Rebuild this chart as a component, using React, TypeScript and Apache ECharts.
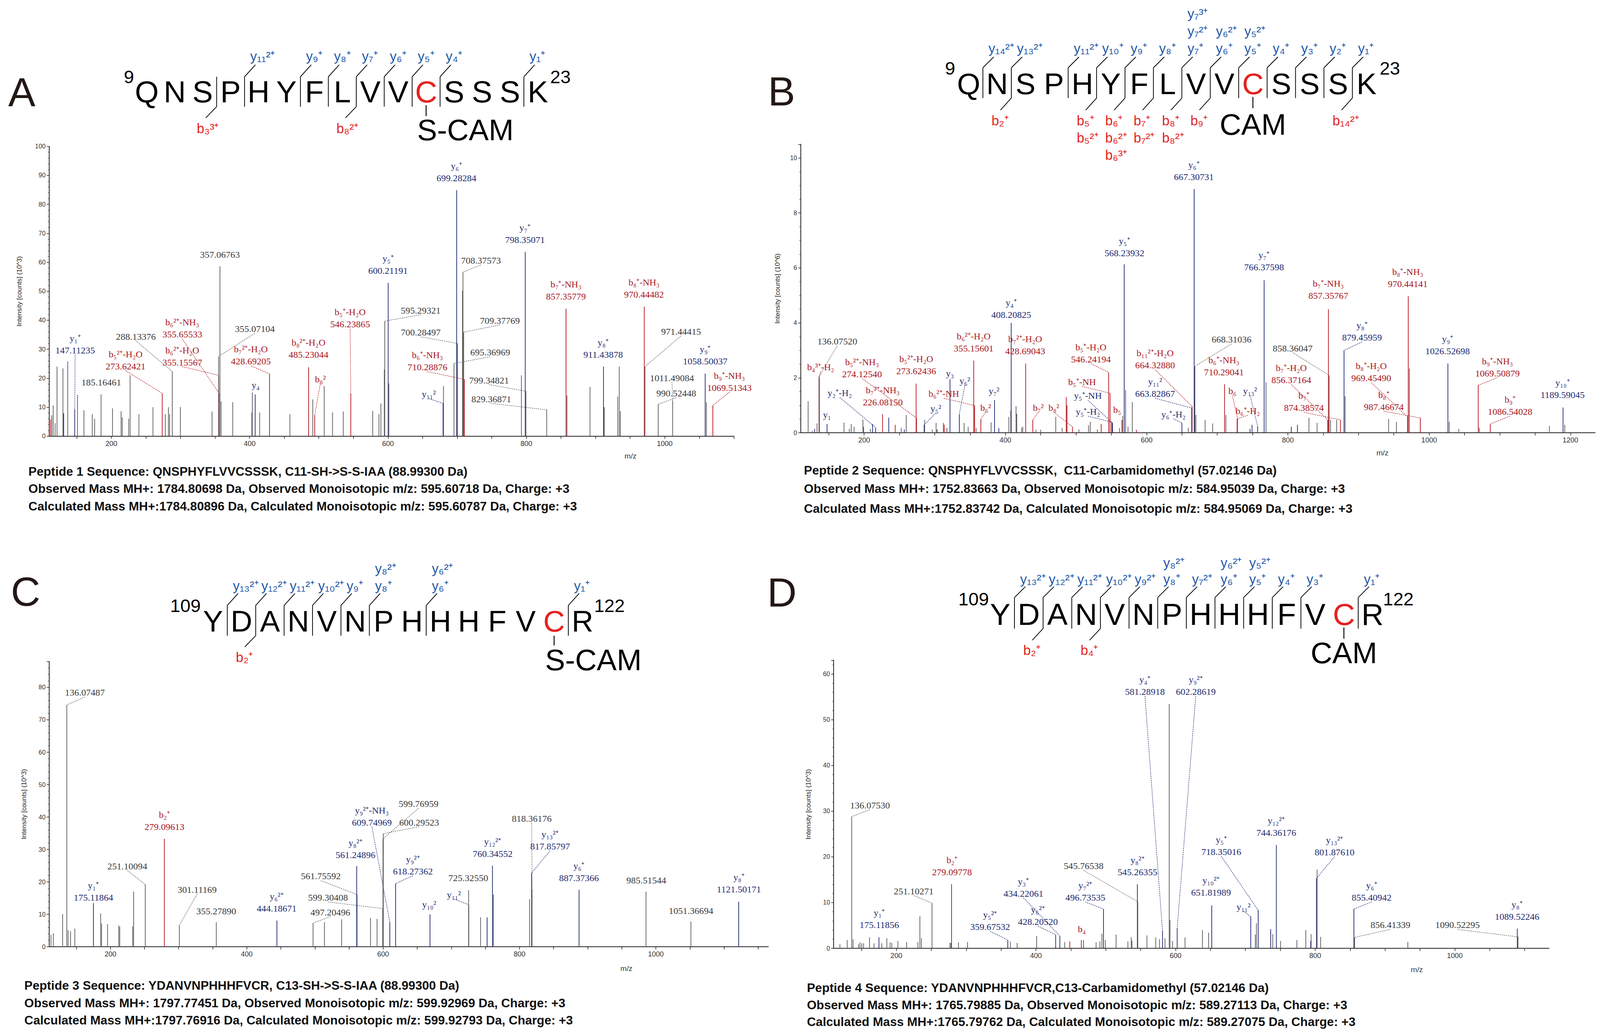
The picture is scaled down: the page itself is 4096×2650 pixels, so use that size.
import React, { useEffect, useRef } from "react";
import * as echarts from "echarts";

const W = 4096;
const H = 2650;
const S = W / 4273;
const R = (v: number) => v * S;

// ---------------- data ----------------
// unlabeled peaks: [m/z, intensity, kind]  kind: g = unassigned, b = y-ion, r = b-ion
const peaksA = [
  [112.2, 5.8, "r"], [113.9, 7.2, "g"], [116, 10.6, "g"], [118.8, 4.5, "g"], [121.5, 24, "g"], [130.1, 23.4, "g"],
  [131.2, 7.9, "b"], [137, 25.8, "g"], [151.1, 14.2, "g"], [160.4, 8.9, "g"], [172.5, 7.6, "g"], [175.9, 6, "g"],
  [201.7, 9.6, "g"], [214.1, 8.6, "g"], [215.8, 6.5, "g"], [225.1, 6, "g"], [227.2, 21, "g"], [239.9, 7.6, "g"],
  [260.2, 10, "g"], [278.1, 7.6, "g"], [282.6, 10, "g"], [284.3, 7.6, "g"], [299.8, 10.1, "g"], [345.6, 8.5, "g"],
  [358.7, 12, "g"], [375.5, 11.7, "g"], [403.1, 8.2, "g"], [403.8, 15.1, "g"], [414.4, 8.2, "g"], [458.2, 7.6, "g"],
  [491.2, 12.7, "g"], [507.7, 17.3, "g"], [519.8, 8.2, "g"], [535.3, 8.5, "g"], [577.9, 8.7, "g"], [586.9, 7.6, "g"],
  [589.7, 11.3, "g"], [594.6, 23, "g"], [601.2, 18.2, "g"], [680.2, 17.3, "g"], [707.6, 50.2, "g"], [792.8, 21, "g"],
  [858.7, 14, "g"], [892, 17, "g"], [912.6, 10, "g"], [932.1, 13.7, "g"], [934.3, 24, "g"], [935.9, 8.6, "g"],
  [1060.3, 11.7, "g"],
];
// annotated peaks: [m/z, intensity, kind, ion, show m/z]
const annA = [
  [147.11235, 9.3, "b", "y₁⁺", 1], [185.16461, 14.4, "g", "", 1], [273.62421, 14.8, "r", "b₅²⁺-H₂O", 1],
  [288.13376, 22.3, "g", "", 1], [355.65533, 14.8, "r", "b₆²⁺-NH₃", 1], [355.15567, 21, "r", "b₆²⁺-H₂O", 1],
  [355.07104, 27.5, "g", "", 1], [357.06763, 58.6, "g", "", 1], [408.0, 14.4, "b", "y₄", 0],
  [428.69205, 21.5, "r", "b₇²⁺-H₂O", 1], [485.23044, 23.8, "r", "b₈²⁺-H₂O", 1], [494.0, 7.2, "r", "b₈²", 0],
  [546.23865, 14.8, "r", "b₅⁺-H₂O", 1], [600.21191, 52.9, "b", "y₅⁺", 1], [595.29321, 39.7, "g", "", 1],
  [700.28497, 32, "g", "", 1], [710.28876, 19.6, "r", "b₆⁺-NH₃", 1], [679.6, 11.3, "b", "y₁₁²", 0],
  [695.36969, 25.1, "g", "", 1], [699.28284, 84.9, "b", "y₆⁺", 1], [708.37573, 56.6, "g", "", 1],
  [709.37769, 35.9, "g", "", 1], [799.34821, 15.5, "g", "", 1], [829.36871, 9.1, "g", "", 1],
  [798.35071, 63.6, "b", "y₇⁺", 1], [857.35779, 44, "r", "b₇⁺-NH₃", 1], [911.43878, 24, "b", "y₈⁺", 1],
  [970.44482, 44.7, "r", "b₈⁺-NH₃", 1], [971.44415, 24, "g", "", 1], [1011.49084, 12.2, "g", "", 1],
  [990.52448, 11, "g", "", 1], [1058.50037, 21.6, "b", "y₉⁺", 1], [1069.51343, 10.6, "r", "b₉⁺-NH₃", 1],
];
// label placement (data coords of label bottom centre, leader flag)
const layA = [
  [147.7, 28.5, 1], [185.5, 17.5, 0], [220.7, 23, 1], [235.5, 33.3, 1], [302.6, 34, 1], [302.6, 24.4, 1],
  [407.5, 35.9, 1], [357, 61.6, 0], [408.6, 16.5, 0], [401.7, 24.7, 1], [485, 27.1, 0], [502.2, 18.6, 1],
  [545.2, 37.5, 1], [600, 56, 0], [647.3, 42.3, 1], [647.3, 34.7, 1], [657, 22.7, 1], [659, 13.4, 1],
  [747.7, 27.8, 1], [698.9, 88, 0], [734.4, 59.5, 1], [761.7, 38.8, 1], [746, 18.2, 1], [749.3, 11.7, 1],
  [798, 66.7, 0], [857.2, 47.1, 0], [911, 27.1, 0], [970, 47.8, 0], [1023.6, 35, 1], [1010.5, 19, 1],
  [1016.7, 13.7, 1], [1058.5, 24.7, 0], [1093.5, 15.6, 1],
];

const peaksB = [
  [120.7, 1.15, "g"], [126.5, 0.07, "g"], [129.9, 0.14, "b"], [133.3, 0.34, "g"], [171.5, 0.37, "g"], [179, 0.14, "g"],
  [181.7, 0.32, "g"], [185.8, 0.22, "g"], [198.3, 0.48, "g"], [199.3, 0.22, "g"], [208.8, 0.14, "g"], [211.9, 0.32, "b"],
  [234.9, 0.55, "b"], [244, 0.29, "r"], [252.5, 0.18, "g"], [256.9, 0.12, "b"], [259.6, 0.65, "g"], [285.7, 0.47, "g"],
  [296.5, 0.12, "g"], [301.9, 0.36, "g"], [303.3, 0.12, "b"], [312.1, 0.36, "g"], [313.5, 0.29, "r"], [317.2, 0.18, "g"],
  [341.6, 0.36, "g"], [347.3, 0.22, "g"], [358.5, 0.18, "g"], [379.8, 0.38, "g"], [390.7, 0.17, "b"], [404.9, 0.58, "g"],
  [407.6, 0.8, "g"], [415.1, 0.97, "g"], [416.1, 0.69, "g"], [422.9, 0.18, "g"], [424.6, 0.22, "g"], [443.2, 0.11, "g"],
  [450, 0.11, "g"], [471.3, 0.58, "g"], [480.4, 0.18, "g"], [486.2, 1.3, "r"], [487.2, 1.0, "r"], [504.2, 0.12, "g"],
  [517.7, 0.27, "g"], [520.1, 0.4, "g"], [530.2, 0.12, "g"], [535.6, 0.32, "r"], [561.7, 0.17, "g"], [566.1, 0.61, "g"],
  [570.2, 1.55, "g"], [573.6, 0.22, "g"], [579.7, 1.12, "g"], [585.4, 0.11, "r"], [659, 0.18, "g"], [669.7, 0.65, "g"],
  [682.8, 0.47, "g"], [693.5, 0.34, "g"], [712.2, 0.65, "g"], [746.4, 0.14, "b"], [749.2, 0.29, "b"], [769, 1.84, "g"],
  [804.8, 0.22, "b"], [813.5, 0.29, "b"], [829.8, 0.54, "g"], [841.3, 0.36, "g"], [860.4, 0.47, "g"], [869.1, 0.47, "g"],
  [881, 1.33, "g"], [942.6, 0.5, "g"], [953.7, 0.4, "g"], [972, 2.34, "g"], [1028.4, 0.4, "g"], [1041.9, 0.14, "g"],
  [1070.9, 0.18, "g"], [1170.2, 0.25, "g"], [1192, 0.29, "g"],
];
const annB = [
  [136.0752, 2.05, "g", "", 1], [136.6, 2.0, "r", "b₄³⁺-H₂", 0], [147.5, 0.32, "b", "y₁", 0],
  [216.3, 0.19, "b", "y₂⁺-H₂", 0], [274.1254, 0.54, "r", "b₅²⁺-NH₃", 1], [226.0815, 0.68, "r", "b₇²⁺-NH₃", 1],
  [273.62436, 1.79, "r", "b₅²⁺-H₂O", 1], [285.0, 0.29, "b", "y₅²", 0], [321.6, 1.95, "b", "y₃", 0],
  [334.8, 0.68, "b", "y₆²", 0], [355.15601, 2.63, "r", "b₆²⁺-H₂O", 1], [356.4, 0.99, "r", "b₆²⁺-NH", 0],
  [365.3, 0.5, "r", "b₆²", 0], [384.6, 1.19, "b", "y₇²", 0], [408.20825, 4.0, "b", "y₄⁺", 1],
  [428.69043, 2.52, "r", "b₇²⁺-H₂O", 1], [438.8, 0.47, "r", "b₇²", 0], [495.0, 0.22, "r", "b₈²", 0],
  [546.24194, 2.2, "r", "b₅⁺-H₂O", 1], [548.2, 1.44, "r", "b₅⁺-NH", 0], [551.6, 0.36, "b", "y₅⁺-NH", 0],
  [550.5, 0.39, "b", "y₅⁺-H₂", 0], [565.1, 0.47, "r", "b₅", 0], [568.23932, 6.13, "b", "y₅⁺", 1],
  [664.3288, 0.96, "r", "b₁₁²⁺-H₂O", 1], [663.82867, 0.9, "b", "y₁₁²", 1], [649.9, 0.36, "b", "y₆⁺-H₂", 0],
  [667.30731, 8.87, "b", "y₆⁺", 1], [668.31036, 2.42, "g", "", 1], [710.29041, 1.77, "r", "b₆⁺-NH₃", 1],
  [728.5, 0.53, "r", "b₆", 0], [728.1, 0.5, "r", "b₆⁺-H₂", 0], [757.1, 0.25, "b", "y₁₃²", 0],
  [766.37598, 5.55, "b", "y₇⁺", 1], [858.36047, 2.09, "g", "", 1], [856.37164, 0.47, "r", "b₇⁺-H₂O", 1],
  [874.38574, 0.47, "r", "b₇⁺", 1], [857.35767, 4.5, "r", "b₇⁺-NH₃", 1], [879.45959, 3.0, "b", "y₈⁺", 1],
  [969.4549, 0.58, "r", "b₈⁺-H₂O", 1], [987.46674, 0.54, "r", "b₈⁺", 1], [970.44141, 4.97, "r", "b₈⁺-NH₃", 1],
  [1026.52698, 2.52, "b", "y₉⁺", 1], [1069.50879, 1.73, "r", "b₉⁺-NH₃", 1], [1086.54028, 0.32, "r", "b₉⁺", 1],
  [1189.59045, 0.92, "b", "y₁₀⁺", 1],
];
const layB = [
  [162, 3.21, 1], [138.4, 2.27, 1], [147.5, 0.54, 0], [165.5, 1.33, 1], [197, 2.02, 1], [226.4, 1.0, 0],
  [273.8, 2.13, 0], [301.6, 0.76, 1], [321.6, 2.05, 0], [342.6, 1.77, 1], [355.1, 2.96, 0], [312.8, 1.3, 1],
  [372, 0.79, 1], [383.9, 1.41, 0], [408.3, 4.18, 0], [428, 2.85, 0], [446.6, 0.79, 1], [468.6, 0.79, 1],
  [521.1, 2.56, 1], [508.5, 1.73, 1], [516.8, 1.23, 1], [516.8, 0.65, 1], [558.3, 0.72, 0], [568.5, 6.42, 0],
  [612, 2.34, 1], [612, 1.3, 1], [638, 0.55, 1], [666.9, 9.19, 0], [720.2, 3.28, 1], [709.4, 2.09, 0],
  [721.4, 1.41, 1], [743.2, 0.68, 1], [746.4, 1.41, 1], [766.2, 5.91, 0], [806.8, 2.96, 1], [804.8, 1.8, 1],
  [822.6, 0.79, 1], [857.2, 4.87, 0], [904.9, 3.35, 1], [918, 1.87, 1], [935.8, 0.83, 1], [969.6, 5.3, 0],
  [1026, 2.85, 0], [1096.7, 2.05, 1], [1114.6, 0.65, 1], [1188.9, 1.26, 0],
];

const peaksC = [
  [112.8, 3.7, "g"], [116.3, 4.2, "g"], [129.9, 10.1, "g"], [138, 5.1, "g"], [141.5, 4.8, "g"], [147.8, 5.6, "g"],
  [185.6, 10.3, "g"], [187, 7.2, "g"], [195.8, 7.0, "g"], [212.3, 6.6, "g"], [213.7, 6.2, "g"], [232.6, 6.3, "g"],
  [234, 17.0, "g"], [513.9, 7.6, "g"], [539.1, 8.5, "g"], [581.5, 8.9, "g"], [591.1, 8.6, "g"], [742.9, 9.1, "g"],
  [752.5, 9.1, "b"], [761.7, 16.1, "g"], [814.9, 14.7, "g"],
];
const annC = [
  [136.07487, 74.6, "g", "", 1], [175.11864, 13.5, "b", "y₁⁺", 1], [251.10094, 19.2, "g", "", 1],
  [279.09613, 33.3, "r", "b₂⁺", 1], [301.11169, 6.7, "g", "", 1], [355.2789, 7.6, "g", "", 1],
  [444.18671, 8.1, "b", "y₆²⁺", 1], [561.75592, 16.1, "g", "", 1], [599.30408, 11.8, "g", "", 1],
  [497.20496, 7.3, "g", "", 1], [561.24896, 24.9, "b", "y₈²⁺", 1], [609.74969, 7.6, "b", "y₉²⁺-NH₃", 1],
  [599.76959, 33.3, "g", "", 1], [600.29523, 34.9, "g", "", 1], [618.27362, 19.5, "b", "y₉²⁺", 1],
  [668.7, 10.0, "b", "y₁₀²", 0], [725.6, 13.0, "b", "y₁₁²", 0], [725.3255, 17.5, "g", "", 1],
  [760.34552, 25, "b", "y₁₂²⁺", 1], [818.36176, 17.6, "g", "", 1], [817.85797, 22.8, "b", "y₁₃²⁺", 1],
  [887.37366, 17.6, "b", "y₆⁺", 1], [985.51544, 17, "g", "", 1], [1051.36694, 7.8, "g", "", 1],
  [1121.50171, 13.9, "b", "y₈⁺", 1],
];
const layC = [
  [162.5, 77.4, 1], [175.1, 14.2, 0], [224.9, 23.9, 1], [279.2, 36, 0], [327.2, 16.6, 1], [355.2, 10, 0],
  [443.8, 10.8, 0], [508.6, 20.8, 1], [519.1, 14.2, 1], [522.6, 9.7, 1], [559.4, 27.4, 0], [583.5, 37.4, 1],
  [652, 43.1, 1], [652.8, 37.4, 1], [643.6, 22.3, 1], [667.6, 12, 0], [703.8, 15.1, 1], [724.8, 20.2, 0],
  [760.6, 27.7, 0], [817.9, 38.6, 1], [844.9, 30, 1], [887.3, 20.3, 0], [985.9, 19.5, 0], [1051.6, 10.1, 0],
  [1121.8, 16.8, 0],
];

const peaksD = [
  [119.2, 0.9, "g"], [129.6, 1.8, "g"], [137.9, 2.0, "g"], [145.8, 0.9, "g"], [147.9, 1.3, "g"], [150.5, 1.1, "g"],
  [153, 1.1, "g"], [161.6, 2.4, "g"], [168, 1.1, "g"], [179.2, 1.1, "g"], [186.4, 2.2, "g"], [191, 1.3, "g"],
  [193.5, 1.2, "g"], [202.2, 1.6, "g"], [214.7, 1.4, "g"], [230.9, 1.4, "g"], [233.7, 7.0, "g"], [235.9, 2.2, "g"],
  [276.8, 1.2, "g"], [278.3, 1.2, "g"], [289, 1.3, "g"], [302, 1.4, "g"], [363.3, 1.5, "g"], [373, 1.2, "g"],
  [401, 2.7, "g"], [441.2, 1.4, "g"], [448.4, 1.5, "r"], [468.2, 1.8, "g"], [486.1, 1.3, "g"], [491.5, 1.5, "g"],
  [494.4, 3.2, "g"], [499.4, 1.8, "g"], [514.8, 3.0, "g"], [531.7, 1.5, "g"], [536.4, 2.4, "g"], [537.5, 1.7, "g"],
  [559, 2.8, "g"], [571.6, 2.4, "g"], [577, 2.0, "g"], [584.8, 2.2, "g"], [590.9, 53.4, "g"], [592, 6.2, "g"],
  [595.6, 1.6, "g"], [613.5, 2.4, "g"], [638.5, 4.0, "g"], [647.3, 3.4, "g"], [714.2, 3.0, "g"], [715.8, 5.5, "g"],
  [736.2, 4.2, "b"], [739.2, 3.1, "g"], [750.4, 1.6, "g"], [773.8, 1.8, "g"], [786.5, 4.0, "g"], [793.5, 1.6, "b"],
  [794.2, 3.1, "g"], [802.7, 17.2, "g"], [807.7, 2.5, "g"], [932.7, 1.4, "g"],
];
const annD = [
  [136.0753, 28.8, "g", "", 1], [175.11856, 2.4, "b", "y₁⁺", 1], [251.10271, 9.9, "g", "", 1],
  [279.09778, 14, "r", "b₂⁺", 1], [359.67532, 1.8, "b", "y₅²⁺", 1], [434.22061, 2.7, "b", "y₃⁺", 1],
  [428.2052, 3.0, "b", "y₆²⁺", 1], [465.0, 1.8, "r", "b₄", 0], [496.73535, 8.6, "b", "y₇²⁺", 1],
  [545.76538, 10.2, "g", "", 1], [545.26355, 14, "b", "y₈²⁺", 1], [581.28918, 3.8, "b", "y₄⁺", 1],
  [602.28619, 4.4, "b", "y₉²⁺", 1], [651.81989, 9.4, "b", "y₁₀²⁺", 1], [707.7, 6.9, "b", "y₁₁²", 0],
  [718.35016, 8.3, "b", "y₅⁺", 1], [744.36176, 22.6, "b", "y₁₂²⁺", 1], [801.8761, 15.3, "b", "y₁₃²⁺", 1],
  [855.40942, 8.6, "b", "y₆⁺", 1], [856.41339, 2.4, "g", "", 1], [1090.52295, 2.5, "g", "", 1],
  [1089.52246, 4.3, "b", "y₈⁺", 1],
];
const layD = [
  [162.3, 30.6, 1], [175.6, 4.4, 0], [224.8, 11.8, 1], [279.7, 16, 0], [334.3, 4.0, 1], [382, 11.3, 1],
  [402.8, 5.1, 1], [465.7, 3.5, 0], [470.7, 10.4, 1], [468.2, 17.3, 1], [545.4, 16, 0], [556.1, 55.4, 1],
  [628.9, 55.4, 1], [650.8, 11.5, 0], [697.3, 8.4, 1], [665.4, 20.4, 1], [744.2, 24.6, 0], [827.7, 20.3, 1],
  [880.8, 10.4, 1], [907.7, 4.4, 1], [1003.8, 4.4, 1], [1089.2, 6.2, 0],
];

// tick labels
const xLabelsA = [200, 400, 600, 800, 1000];
const xLabelsB = [200, 400, 600, 800, 1000, 1200];
const xLabelsC = [200, 400, 600, 800, 1000];
const xLabelsD = [200, 400, 600, 800, 1000];

// sequence headers
const yIonsA = [[3, ["y₁₁²⁺"]], [5, ["y₉⁺"]], [6, ["y₈⁺"]], [7, ["y₇⁺"]], [8, ["y₆⁺"]], [9, ["y₅⁺"]], [10, ["y₄⁺"]], [13, ["y₁⁺"]]];
const bIonsA = [[2, ["b₃³⁺"]], [7, ["b₈²⁺"]]];
const yIonsB = [[0, ["y₁₄²⁺"]], [1, ["y₁₃²⁺"]], [3, ["y₁₁²⁺"]], [4, ["y₁₀⁺"]], [5, ["y₉⁺"]], [6, ["y₈⁺"]],
  [7, ["y₇⁺", "y₇²⁺", "y₇³⁺"]], [8, ["y₆⁺", "y₆²⁺"]], [9, ["y₅⁺", "y₅²⁺"]], [10, ["y₄⁺"]], [11, ["y₃⁺"]], [12, ["y₂⁺"]], [13, ["y₁⁺"]]];
const bIonsB = [[1, ["b₂⁺"]], [4, ["b₅⁺", "b₅²⁺"]], [5, ["b₆⁺", "b₆²⁺", "b₆³⁺"]], [6, ["b₇⁺", "b₇²⁺"]], [7, ["b₈⁺", "b₈²⁺"]], [8, ["b₉⁺"]], [13, ["b₁₄²⁺"]]];
const yIonsC = [[0, ["y₁₃²⁺"]], [1, ["y₁₂²⁺"]], [2, ["y₁₁²⁺"]], [3, ["y₁₀²⁺"]], [4, ["y₉⁺"]], [5, ["y₈⁺", "y₈²⁺"]], [7, ["y₆⁺", "y₆²⁺"]], [12, ["y₁⁺"]]];
const bIonsC = [[1, ["b₂⁺"]]];
const yIonsD = [[0, ["y₁₃²⁺"]], [1, ["y₁₂²⁺"]], [2, ["y₁₁²⁺"]], [3, ["y₁₀²⁺"]], [4, ["y₉²⁺"]], [5, ["y₈⁺", "y₈²⁺"]], [6, ["y₇²⁺"]],
  [7, ["y₆⁺", "y₆²⁺"]], [8, ["y₅⁺", "y₅²⁺"]], [9, ["y₄⁺"]], [10, ["y₃⁺"]], [12, ["y₁⁺"]]];
const bIonsD = [[1, ["b₂⁺"]], [3, ["b₄⁺"]]];

const captionA = [
  "Peptide 1 Sequence: QNSPHYFLVVCSSSK, C11-SH->S-S-IAA (88.99300 Da)",
  "Observed Mass MH+: 1784.80698 Da, Observed Monoisotopic m/z: 595.60718 Da, Charge: +3",
  "Calculated Mass MH+:1784.80896 Da, Calculated Monoisotopic m/z: 595.60787 Da, Charge: +3",
];
const captionB = [
  "Peptide 2 Sequence: QNSPHYFLVVCSSSK,  C11-Carbamidomethyl (57.02146 Da)",
  "Observed Mass MH+: 1752.83663 Da, Observed Monoisotopic m/z: 584.95039 Da, Charge: +3",
  "Calculated Mass MH+:1752.83742 Da, Calculated Monoisotopic m/z: 584.95069 Da, Charge: +3",
];
const captionC = [
  "Peptide 3 Sequence: YDANVNPHHHFVCR, C13-SH->S-S-IAA (88.99300 Da)",
  "Observed Mass MH+: 1797.77451 Da, Observed Monoisotopic m/z: 599.92969 Da, Charge: +3",
  "Calculated Mass MH+:1797.76916 Da, Calculated Monoisotopic m/z: 599.92793 Da, Charge: +3",
];
const captionD = [
  "Peptide 4 Sequence: YDANVNPHHHFVCR,C13-Carbamidomethyl (57.02146 Da)",
  "Observed Mass MH+: 1765.79885 Da, Observed Monoisotopic m/z: 589.27113 Da, Charge: +3",
  "Calculated Mass MH+:1765.79762 Da, Calculated Monoisotopic m/z: 589.27075 Da, Charge: +3",
];

// ---------------- styling ----------------
const KIND: any = { g: 0, b: 1, r: 2 };
const PEAK_COL = ["#5a5a5a", "#1b2670", "#b5121b"];
const TEXT_COL = ["#3a3a3a", "#1e2b6f", "#a8161b"];
const SERIF = "'Liberation Serif', 'Times New Roman', serif";
const SANS = "'Liberation Sans', Arial, sans-serif";
const HBLUE = "#1f58a8";
const HRED = "#e42320";
const FS = 24;
const LH = 31;

const panels = [
  { g: [131, 391, 1960, 1165], xr: [110, 1100], ymax: 100, yint: 10, ysplit: 5, yname: "Intensity [counts] (10^3)", gap: 71, xl: xLabelsA, peaks: peaksA, ann: annA, lay: layA, mz: [1684, 1218] },
  { g: [2138, 385.3, 4260, 1156], xr: [110, 1235], ymax: 10.5, yint: 2, ysplit: 4, yname: "Intensity [counts] (10^6)", gap: 53, xl: xLabelsB, peaks: peaksB, ann: annB, lay: layB, mz: [3692, 1210] },
  { g: [131, 1766.7, 2052, 2529], xr: [110, 1165], ymax: 88, yint: 10, ysplit: 5, yname: "Intensity [counts] (10^3)", gap: 58, xl: xLabelsC, peaks: peaksC, ann: annC, lay: layC, mz: [1673, 2587] },
  { g: [2226, 1763.3, 4137, 2533], xr: [110, 1135], ymax: 63, yint: 10, ysplit: 5, yname: "Intensity [counts] (10^3)", gap: 58, xl: xLabelsD, peaks: peaksD, ann: annD, lay: layD, mz: [3784, 2590] },
];

const headers = [
  { seq: "QNSPHYFLVVCSSSK", start: 9, end: 23, cys: 10, mod: "S-CAM", modCenter: false, x0: 392, pitch: 74.6, cy: 245.5, font: 82,
    sepTop: 205, sepBot: 285, slashTop: 173, labRow0: 150, labPitch: 46, slashBot: 315, bRow0: 343, bPitch: 46,
    numCy: 205.5, numL: 34, numR: 33, modLine: [281, 310], modCy: 346.5, y: yIonsA, b: bIonsA },
  { seq: "QNSPHYFLVVCSSSK", start: 9, end: 23, cys: 10, mod: "CAM", modCenter: true, x0: 2587, pitch: 75.9, cy: 223.5, font: 80,
    sepTop: 181, sepBot: 262, slashTop: 152, labRow0: 129, labPitch: 46, slashBot: 294, bRow0: 322, bPitch: 46,
    numCy: 182.5, numL: 36, numR: 35, modLine: [259, 289], modCy: 332, y: yIonsB, b: bIonsB },
  { seq: "YDANVNPHHHFVCR", start: 109, end: 122, cys: 12, mod: "S-CAM", modCenter: false, x0: 569, pitch: 75.9, cy: 1659, font: 80,
    sepTop: 1617, sepBot: 1698, slashTop: 1585, labRow0: 1565, labPitch: 46, slashBot: 1728, bRow0: 1756, bPitch: 46,
    numCy: 1617.5, numL: 33, numR: 31, modLine: [1698, 1724], modCy: 1762, y: yIonsC, b: bIonsC },
  { seq: "YDANVNPHHHFVCR", start: 109, end: 122, cys: 12, mod: "CAM", modCenter: true, x0: 2671, pitch: 76.5, cy: 1640.5, font: 82,
    sepTop: 1596, sepBot: 1679, slashTop: 1567, labRow0: 1547, labPitch: 44, slashBot: 1710, bRow0: 1737, bPitch: 46,
    numCy: 1599.5, numL: 30, numR: 28, modLine: [1676, 1706], modCy: 1743.5, y: yIonsD, b: bIonsD },
];

const panelLetters = [["A", 22, 246], ["B", 2051, 243.5], ["C", 29, 1580], ["D", 2049, 1582]];
const captions = [
  { lines: captionA, x: 76, cy: [1259, 1305, 1352] },
  { lines: captionB, x: 2147, cy: [1256, 1305, 1358] },
  { lines: captionC, x: 65, cy: [2632, 2679, 2725] },
  { lines: captionD, x: 2155, cy: [2638, 2684, 2729] },
];

// ---------------- helpers ----------------
function txt(text: string, x: number, y: number, size: number, color: string, align: string, weight?: string, family?: string) {
  return {
    type: "text", x: R(x), y: R(y), silent: true,
    style: {
      text, fill: color, fontSize: R(size), fontFamily: family || SANS, fontWeight: weight || "normal",
      textAlign: align, align, textVerticalAlign: "middle", verticalAlign: "middle",
    },
  };
}
function ln(x1: number, y1: number, x2: number, y2: number, color: string, w: number) {
  return { type: "line", silent: true, shape: { x1: R(x1), y1: R(y1), x2: R(x2), y2: R(y2) }, style: { stroke: color, lineWidth: R(w) } };
}

function header(h: any) {
  const els: any[] = [];
  const n = h.seq.length;
  const lx = (i: number) => h.x0 + i * h.pitch;
  for (let i = 0; i < n; i++) els.push(txt(h.seq[i], lx(i), h.cy, h.font, i === h.cys ? HRED : "#000", "center"));
  els.push(txt(String(h.start), lx(0) - h.numL, h.numCy, 49, "#000", "right"));
  els.push(txt(String(h.end), lx(n - 1) + h.numR, h.numCy, 49, "#000", "left"));
  const bounds = new Set<number>([...h.y.map((e: any) => e[0]), ...h.b.map((e: any) => e[0])]);
  bounds.forEach((k) => {
    const xs = lx(k) + h.pitch / 2;
    els.push(ln(xs, h.sepTop, xs, h.sepBot, "#000", 2));
  });
  h.y.forEach((e: any) => {
    const xs = lx(e[0]) + h.pitch / 2;
    els.push(ln(xs, h.sepTop, xs + 29, h.slashTop, "#000", 2));
    e[1].forEach((t: string, j: number) => els.push(txt(t, xs + 29 - 14, h.labRow0 - j * h.labPitch, 36, HBLUE, "left")));
  });
  h.b.forEach((e: any) => {
    const xs = lx(e[0]) + h.pitch / 2;
    els.push(ln(xs, h.sepBot, xs - 29, h.slashBot, "#000", 2));
    e[1].forEach((t: string, j: number) => els.push(txt(t, xs - 29 - 24, h.bRow0 + j * h.bPitch, 36, HRED, "left")));
  });
  const cx = lx(h.cys);
  els.push(ln(cx, h.modLine[0], cx, h.modLine[1], "#000", 2.5));
  els.push(txt(h.mod, h.modCenter ? cx : cx - 24, h.modCy, 80, "#000", h.modCenter ? "center" : "left"));
  return els;
}

function peakSeries(peaks: any[], i: number) {
  return {
    type: "custom", coordinateSystem: "cartesian2d", xAxisIndex: i, yAxisIndex: i, silent: true, z: 2,
    encode: { x: 0, y: 1 },
    data: peaks.map((p) => [p[0], p[1], KIND[p[2]]]),
    renderItem: (params: any, api: any) => {
      const x = api.value(0), y = api.value(1), k = api.value(2);
      const a = api.coord([x, 0]), b = api.coord([x, y]);
      return { type: "line", shape: { x1: a[0], y1: a[1], x2: b[0], y2: b[1] }, style: { stroke: PEAK_COL[k], lineWidth: 1.8 } };
    },
  };
}

function annSeries(ann: any[], lay: any[], i: number) {
  return {
    type: "custom", coordinateSystem: "cartesian2d", xAxisIndex: i, yAxisIndex: i, silent: true, z: 3,
    encode: { x: 0, y: 1 },
    data: ann.map((a) => [a[0], a[1]]),
    renderItem: (params: any, api: any) => {
      const a = ann[params.dataIndex];
      const l = lay[params.dataIndex];
      const k = KIND[a[2]];
      const base = api.coord([a[0], 0]);
      const top = api.coord([a[0], a[1]]);
      const lab = api.coord([l[0], l[1]]);
      const lines: string[] = [];
      if (a[3]) lines.push(a[3]);
      if (a[4]) lines.push(a[0].toFixed(5));
      const n = lines.length;
      const children: any[] = [
        { type: "line", shape: { x1: base[0], y1: base[1], x2: top[0], y2: top[1] }, style: { stroke: PEAK_COL[k], lineWidth: 1.8 } },
      ];
      if (l[2]) {
        children.push({ type: "line", shape: { x1: lab[0], y1: lab[1] + 3, x2: top[0], y2: top[1] }, style: { stroke: PEAK_COL[k], lineWidth: 1.3, lineDash: [3, 2] } });
      }
      children.push({
        type: "text",
        style: {
          text: lines.join("\n"), x: lab[0], y: lab[1] - 0.34 * FS - ((n - 1) * LH) / 2,
          fill: TEXT_COL[k], fontSize: FS, fontFamily: SERIF, lineHeight: LH,
          textAlign: "center", align: "center", textVerticalAlign: "middle", verticalAlign: "middle",
        },
      });
      return { type: "group", children };
    },
  };
}

function xTicks(max: number) {
  const t: number[] = [];
  for (let v = 150; v <= max; v += 50) t.push(v);
  return t;
}

function buildOption() {
  const graphic: any[] = [];
  headers.forEach((h) => graphic.push(...header(h)));
  panelLetters.forEach((p: any) => graphic.push(txt(p[0], p[1], p[2], 109, "#231815", "left")));
  captions.forEach((c) => c.lines.forEach((t, j) => graphic.push(txt(t, c.x, c.cy[j], 33, "#111", "left", "bold"))));
  panels.forEach((p) => graphic.push(txt("m/z", p.mz[0], p.mz[1], 20, "#333", "center")));

  return {
    animation: false,
    backgroundColor: "#ffffff",
    grid: panels.map((p) => ({
      left: R(p.g[0]), top: R(p.g[1]), width: R(p.g[2] - p.g[0]), height: R(p.g[3] - p.g[1]),
      containLabel: false, outerBoundsMode: "none",
    })),
    xAxis: panels.map((p, i) => ({
      type: "value", gridIndex: i, min: p.xr[0], max: p.xr[1],
      axisLine: { show: true, onZero: false, lineStyle: { color: "#222", width: 2 } },
      axisTick: { show: true, customValues: xTicks(p.xr[1]), length: 7, lineStyle: { color: "#222", width: 1.5 } },
      axisLabel: { show: true, customValues: p.xl, fontSize: 18, color: "#333", margin: 10, fontFamily: SANS, formatter: (v: number) => String(v) },
      splitLine: { show: false },
    })),
    yAxis: panels.map((p, i) => ({
      type: "value", gridIndex: i, min: 0, max: p.ymax, interval: p.yint,
      name: p.yname, nameLocation: "middle", nameGap: R(p.gap), nameRotate: 90,
      nameTextStyle: { fontSize: 17, color: "#222", fontFamily: SANS },
      axisLine: { show: true, onZero: false, lineStyle: { color: "#222", width: 2 } },
      axisTick: { show: true, length: 6, lineStyle: { color: "#222", width: 1.5 } },
      minorTick: { show: true, splitNumber: p.ysplit, length: 3, lineStyle: { color: "#222", width: 1 } },
      axisLabel: { fontSize: 16, color: "#333", margin: 9, fontFamily: SANS, showMaxLabel: p.ymax % p.yint === 0 ? true : false, formatter: (v: number) => String(v) },
      splitLine: { show: false },
      minorSplitLine: { show: false },
    })),
    series: panels.flatMap((p, i) => [peakSeries(p.peaks, i), annSeries(p.ann, p.lay, i)]),
    graphic: { elements: graphic },
  };
}

export default function App() {
  const ref = useRef<HTMLDivElement>(null);
  useEffect(() => {
    document.body.style.margin = "0";
    const chart = echarts.init(ref.current as HTMLDivElement, undefined, { renderer: "svg", width: W, height: H });
    chart.setOption(buildOption() as any);
    return () => chart.dispose();
  }, []);
  return <div ref={ref} style={{ width: W, height: H, background: "#fff" }} />;
}
